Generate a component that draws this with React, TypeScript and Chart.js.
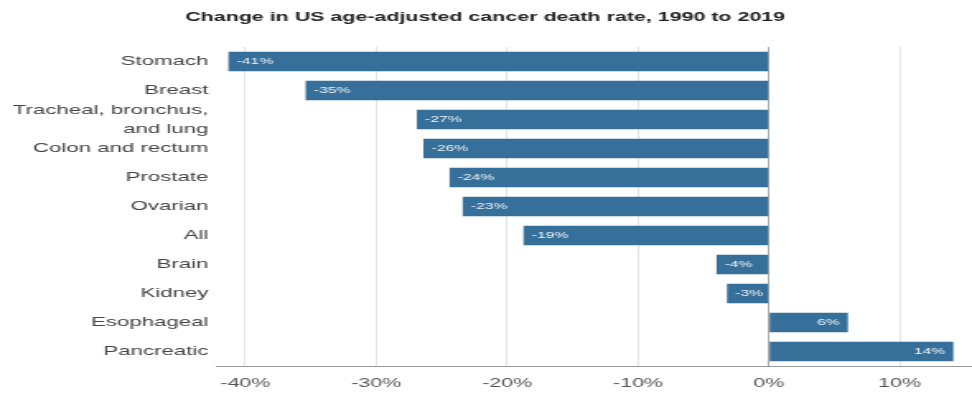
import React, { useEffect, useRef } from "react";
import { Chart, registerables } from "chart.js";

Chart.register(...registerables);

const categories: (string | string[])[] = [
  "Stomach",
  "Breast",
  ["Tracheal, bronchus,", "and lung"],
  "Colon and rectum",
  "Prostate",
  "Ovarian",
  "All",
  "Brain",
  "Kidney",
  "Esophageal",
  "Pancreatic",
];

const changeValues: number[] = [-41.3, -35.4, -26.9, -26.4, -24.4, -23.4, -18.75, -4.0, -3.2, 6.04, 14.1];
const valueLabels: string[] = ["-41%", "-35%", "-27%", "-26%", "-24%", "-23%", "-19%", "-4%", "-3%", "6%", "14%"];
const xTickValues: number[] = [-40, -30, -20, -10, 0, 10];
const titleText = "Change in US age-adjusted cancer death rate, 1990 to 2019";

const FONT = "'Liberation Sans', Arial, sans-serif";
const INNER_W = 590;
const H = 397;

const barLabelPlugin = {
  id: "barLabels",
  afterDatasetsDraw(chart: any) {
    const ctx = chart.ctx;
    const meta = chart.getDatasetMeta(0);
    ctx.save();
    ctx.font = `9.5px ${FONT}`;
    ctx.fillStyle = "rgba(255,255,255,0.92)";
    ctx.textBaseline = "middle";
    meta.data.forEach((bar: any, i: number) => {
      const v = changeValues[i];
      if (v < 0) {
        ctx.textAlign = "left";
        ctx.fillText(valueLabels[i], bar.x + 5, bar.y);
      } else {
        ctx.textAlign = "right";
        ctx.fillText(valueLabels[i], bar.x - 5, bar.y);
      }
    });
    ctx.restore();
  },
};

export default function App() {
  const ref = useRef<HTMLCanvasElement | null>(null);

  useEffect(() => {
    if (!ref.current) return;
    const chart = new Chart(ref.current, {
      type: "bar",
      data: {
        labels: categories as any,
        datasets: [
          {
            data: changeValues,
            backgroundColor: "#36709a",
            borderWidth: 0,
            barPercentage: 0.68,
            categoryPercentage: 1,
          },
        ],
      },
      options: {
        indexAxis: "y",
        responsive: false,
        animation: false,
        devicePixelRatio: 1,
        layout: { padding: { left: 0, right: 1, top: 0, bottom: 0 } },
        plugins: {
          legend: { display: false },
          tooltip: { enabled: false },
          title: {
            display: true,
            text: titleText,
            color: "#222",
            font: { family: FONT, size: 13, weight: "bold" },
            padding: { top: 10, bottom: 21.4 },
          },
        },
        scales: {
          x: {
            min: -42.2,
            max: 15.4,
            afterFit: (s: any) => {
              s.height = 31;
            },
            afterBuildTicks: (s: any) => {
              s.ticks = xTickValues.map((v) => ({ value: v }));
            },
            ticks: {
              color: "#555",
              font: { family: FONT, size: 13 },
              padding: 10,
              autoSkip: false,
              maxRotation: 0,
              callback: (v: any) => `${v}%`,
            },
            grid: {
              drawTicks: false,
              color: (c: any) => (c.tick && c.tick.value === 0 ? "#a8a8a8" : "#e4e4e4"),
              lineWidth: 1,
            },
            border: { display: true, color: "#999" },
          },
          y: {
            afterFit: (s: any) => {
              s.width = 131.5;
            },
            ticks: {
              color: "#444",
              font: { family: FONT, size: 13.5, lineHeight: 1.4 },
              padding: 5,
              autoSkip: false,
            },
            grid: { display: false, drawTicks: false },
            border: { display: false },
          },
        },
      },
      plugins: [barLabelPlugin],
    });
    return () => chart.destroy();
  }, []);

  return (
    <div style={{ position: "fixed", left: 0, top: 0, width: 972, height: H, background: "#fff" }}>
      <canvas
        ref={ref}
        width={INNER_W}
        height={H}
        style={{ width: "972px", height: `${H}px`, display: "block" }}
      />
    </div>
  );
}
